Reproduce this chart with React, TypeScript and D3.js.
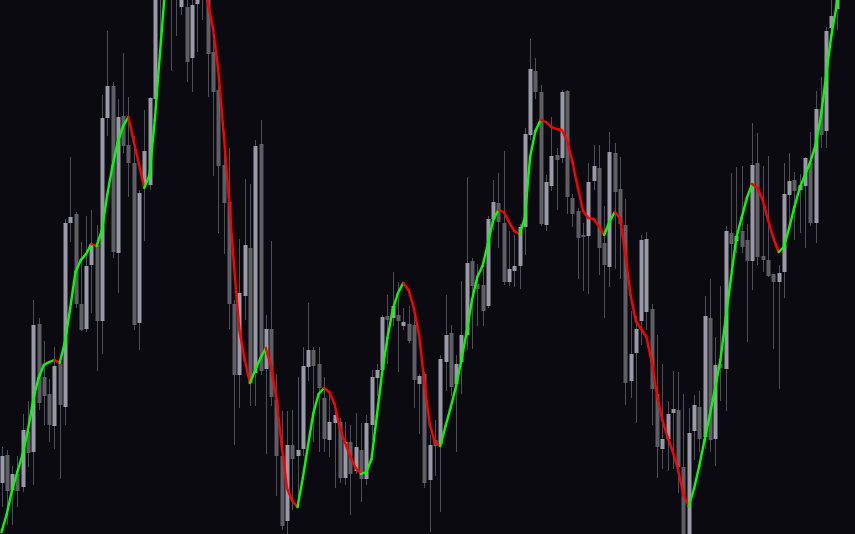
import React from "react";
import * as d3 from "d3";

// OHLC values (price units), one entry per candle
const opens = [51,79,44,60,47,102,82,210,157,140,108,170,127,311,320,230,205,269,289,213,416,448,281,418,389,371,211,350,349,435,594,574,584,542,527,527,476,530,564,544,482,444,369,332,230,159,238,286,161,390,165,205,134,78,13,89,78,85,167,184,170,136,94,111,112,56,92,63,84,55,109,156,164,218,216,219,208,210,209,150,160,54,94,90,172,201,150,172,199,273,250,249,228,315,331,311,252,263,268,307,399,463,442,309,348,379,376,443,336,323,299,298,353,366,291,267,381,345,309,153,181,213,222,225,140,85,95,121,124,67,-11,103,127,97,216,95,170,165,301,293,303,294,273,371,278,274,260,252,262,339,354,344,348,371,311,425,403,506,525,544,579];
const closes = [78,43,60,43,104,81,209,131,138,109,168,129,311,317,230,204,268,290,213,416,448,282,417,388,371,209,341,383,436,544,539,624,539,574,544,472,529,554,539,480,442,368,331,230,159,241,289,151,388,163,205,137,78,8,89,75,84,168,184,168,146,95,112,119,56,92,60,87,55,111,157,164,217,214,228,213,212,193,154,158,51,89,88,175,199,147,170,199,271,248,245,223,315,332,312,252,265,268,307,400,465,442,310,352,378,374,442,337,320,296,297,352,368,286,269,382,342,310,151,180,205,294,295,145,87,95,120,125,67,-11,101,129,95,218,94,169,166,303,290,298,287,273,369,277,274,258,252,261,340,353,343,349,376,311,425,399,503,518,544,584,614];
const highs = [87,84,68,78,120,133,234,216,193,155,187,173,315,377,322,292,318,324,309,439,503,452,435,481,437,398,344,424,437,559,614,644,604,594,564,544,539,564,579,559,494,449,394,386,234,295,355,350,394,414,219,293,160,123,123,124,157,187,231,187,187,157,143,126,116,112,109,121,111,119,164,170,219,239,262,252,226,228,223,160,162,99,114,179,239,209,179,253,357,276,270,265,318,354,361,383,303,299,310,406,495,476,449,359,417,386,444,444,340,326,311,371,389,389,328,402,391,377,335,223,218,299,302,230,199,170,133,163,162,140,126,139,143,238,255,197,248,308,361,367,368,310,411,401,368,378,260,269,371,381,362,360,377,402,443,457,507,539,554,594,629];
const lows = [27,9,9,27,42,67,49,124,109,92,85,55,109,292,226,203,202,221,163,180,398,276,241,381,337,204,184,293,344,424,498,554,463,498,519,452,442,482,514,437,358,301,280,205,89,126,214,128,128,159,80,128,38,4,-11,24,26,78,153,92,82,82,77,46,51,49,19,60,32,49,94,138,160,170,208,162,204,191,126,100,46,2,58,22,143,138,82,140,184,185,208,208,226,304,286,249,248,247,245,279,394,435,308,303,343,324,371,320,307,255,243,240,344,259,216,247,265,255,129,136,111,189,204,109,56,65,63,65,41,-26,-26,74,82,85,82,68,133,123,265,281,281,192,244,269,262,257,185,145,236,310,294,301,286,308,291,386,386,505,504,534,569];

// Smoothed trend line, one value per candle
const trend = [2,20,44,62,80,104,134,156,169,172,174,171,192,226,262,274,280,290,288,304,339,368,392,408,417,393,370,346,359,414,482,549,589,609,616,614,604,584,559,532,506,464,402,337,267,204,174,151,164,176,186,167,135,89,46,33,27,56,89,121,140,146,142,130,106,91,77,66,60,62,75,118,161,196,224,241,251,244,226,199,151,110,91,88,108,127,148,174,202,234,257,268,290,314,324,322,312,303,300,316,377,403,414,412,407,405,404,393,372,347,323,316,315,308,299,312,322,316,280,239,213,205,197,172,139,114,97,82,64,39,28,45,68,94,119,146,174,216,256,296,316,336,350,346,334,314,296,282,287,306,327,346,359,372,389,417,459,499,529,564,596];

const W = 855;
const H = 534;
const BG = "#0a0a10";
const UP_BODY = "#9a9aa6";
const DOWN_BODY = "#5e5e64";
const WICK = "#4e4e56";
const UP_LINE = "#00ff00";
const DOWN_LINE = "#ff0000";

export default function App() {
  const n = opens.length;
  const x = d3.scaleLinear().domain([0, 158]).range([1.5, 836.7]);
  const y = d3.scaleLinear().domain([0, 534]).range([H, 0]);
  const bodyW = 4;
  const lineGen = d3.line<number>().x((_, k) => x(k)).y((v) => y(v));

  const segs = [] as { d: string; up: boolean }[];
  for (let i = 0; i < trend.length - 1; i++) {
    const pair = trend.map((v, k) => (k === i || k === i + 1 ? v : NaN));
    const d = lineGen.defined((v) => !Number.isNaN(v))(pair) || "";
    segs.push({ d, up: trend[i + 1] >= trend[i] });
  }

  return (
    <svg
      width={W}
      height={H}
      style={{ position: "fixed", left: 0, top: 0, display: "block", background: BG }}
    >
      <rect x={0} y={0} width={W} height={H} fill={BG} />
      <g>
        {d3.range(n).map((i) => {
          const cx = Math.round(x(i));
          const up = closes[i] >= opens[i];
          const top = y(Math.max(opens[i], closes[i]));
          const bot = y(Math.min(opens[i], closes[i]));
          return (
            <g key={i}>
              <line
                x1={cx + 0.5}
                x2={cx + 0.5}
                y1={y(highs[i])}
                y2={y(lows[i])}
                stroke={WICK}
                strokeWidth={1}
              />
              <rect
                x={cx - bodyW / 2 + 0.5}
                y={top}
                width={bodyW}
                height={Math.max(1, bot - top)}
                fill={up ? UP_BODY : DOWN_BODY}
              />
            </g>
          );
        })}
      </g>
      <g fill="none" strokeWidth={2.4} strokeLinecap="round" strokeLinejoin="round">
        {segs.map((s, i) => (
          <path key={i} d={s.d} stroke={s.up ? UP_LINE : DOWN_LINE} />
        ))}
      </g>
    </svg>
  );
}
